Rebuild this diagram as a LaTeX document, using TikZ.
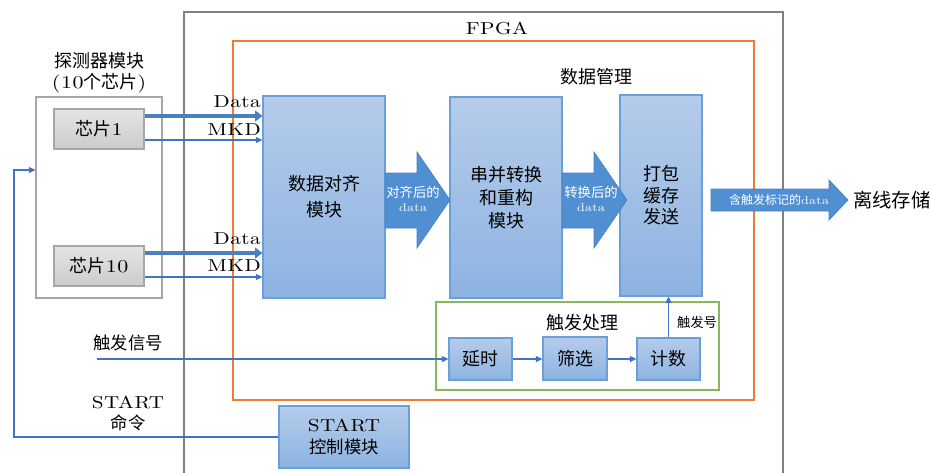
\documentclass[tikz,border=0pt]{standalone}
\usepackage{fontspec}
\setmainfont{lmroman10-regular}[Extension=.otf,FakeStretch=1.22,LetterSpace=3]
\newfontfamily\cjk{Noto Sans CJK SC}
\usetikzlibrary{arrows.meta}
\definecolor{modt}{HTML}{B5CCEA}
\definecolor{modb}{HTML}{8DB3E2}
\definecolor{modline}{HTML}{6A9FD9}
\definecolor{arrfill}{HTML}{5090D2}
\definecolor{arrline}{HTML}{4A80C0}
\definecolor{conn}{HTML}{4472C4}
\definecolor{fpgagray}{HTML}{808080}
\definecolor{boxgray}{HTML}{A6A6A6}
\definecolor{orng}{HTML}{ED7D31}
\definecolor{grn}{HTML}{86B85C}
\definecolor{chipt}{HTML}{E4E4E4}
\definecolor{chipb}{HTML}{CCCCCC}
\newcommand\fsz[2]{\fontsize{#1}{#2}\selectfont}
\begin{document}
\begin{tikzpicture}[x=0.75pt,y=-0.75pt,
  mod/.style={draw=modline, line width=0.8pt, top color=modt, bottom color=modb, align=center, inner sep=0pt, text=black},
  chip/.style={draw=boxgray, line width=0.8pt, top color=chipt, bottom color=chipb, inner sep=0pt, minimum width=67.5pt, minimum height=30pt, font=\fsz{13.5}{16}},
  lbl/.style={inner sep=0pt, align=center, text=black},
  conn/.style={draw=conn, line width=1pt, -{Triangle[length=5pt,width=4.5pt]}},
  thickconn/.style={draw=arrline, line width=3.6pt, -{Triangle[length=5.5pt,width=8pt]}},
  barrow/.style={fill=arrfill, draw=arrline, line width=0.5pt},
  arrlbl/.style={inner sep=0pt, align=center, text=white}
]
\useasboundingbox (0,0) rectangle (930,472);

% frames
\draw[fpgagray, line width=1pt] (184,480) -- (184,12) -- (783,12) -- (783,480);
\node[lbl, font=\fsz{13}{15}] (fpgal) at (497,28) {FPGA};
\draw[orng, line width=1pt] (233,41) rectangle (754,400);
\node[lbl, font=\fsz{13.5}{16}\cjk] (dml) at (596,77) {数据管理};
\draw[grn, line width=1.2pt] (436,302) rectangle (719,390);
\node[lbl, font=\fsz{13.5}{16}\cjk] (tpl) at (582,323) {触发处理};

% detector
\node[draw=boxgray, line width=0.8pt, minimum width=94.5pt, minimum height=150.75pt, inner sep=0pt] (det) at (99,197.5) {};
\node[lbl, font=\fsz{13.5}{15.5}] (detl) at (99,73) {{\cjk 探测器模块}\\(10{\cjk 个芯片})};
\node[chip] (chip1) at (99,129) {{\cjk 芯片}1};
\node[chip] (chip10) at (99,266) {{\cjk 芯片}10};

% modules
\node[mod, minimum width=91.5pt, minimum height=151.5pt, font=\fsz{13.5}{19.5}\cjk] (align) at (324,197) {数据对齐\\模块};
\node[mod, minimum width=84pt, minimum height=150.75pt, font=\fsz{13.5}{17}\cjk] (serial) at (506,197.5) {串并转换\\和重构\\模块};
\node[mod, minimum width=61.5pt, minimum height=150.75pt, font=\fsz{13.5}{16.2}\cjk] (pack) at (661,195.5) {打包\\缓存\\发送};

% trigger processing
\node[mod, minimum width=47.25pt, minimum height=31.5pt, font=\fsz{13.5}{16}\cjk] (delay) at (480.5,359) {延时};
\node[mod, minimum width=48pt, minimum height=32.25pt, font=\fsz{13.5}{16}\cjk] (filt) at (575,358.5) {筛选};
\node[mod, minimum width=47.25pt, minimum height=31.5pt, font=\fsz{13.5}{16}\cjk] (count) at (668.5,359) {计数};
\node[lbl, font=\fsz{10}{12}\cjk] (trno) at (697,322) {触发号};

% START control
\node[mod, minimum width=97.5pt, minimum height=46.5pt, font=\fsz{13}{17}] (start) at (344,437) {START\\{\cjk 控制模块}};

% left labels
\node[lbl, font=\fsz{13}{16}\cjk] (trsig) at (128,343) {触发信号};
\node[lbl, font=\fsz{13}{16}] (startcmd) at (128,413.5) {START\\{\cjk 命令}};

% block arrows
\draw[barrow] (385,173) -- (417,173) -- (417,152) -- (450,200) -- (417,248) -- (417,228) -- (385,228) -- cycle;
\node[arrlbl, font=\fsz{10}{10.5}] (a1l) at (413,199) {{\cjk 对齐后的}\\{\fsz{8.5}{9}data}};
\draw[barrow] (562,173) -- (594,173) -- (594,152) -- (627,200) -- (594,248) -- (594,228) -- (562,228) -- cycle;
\node[arrlbl, font=\fsz{10}{10.5}] (a2l) at (591,199) {{\cjk 转换后的}\\{\fsz{8.5}{9}data}};
\draw[barrow] (711,189) -- (829,189) -- (829,180) -- (848,200) -- (829,220) -- (829,211) -- (711,211) -- cycle;
\node[arrlbl, font=\fsz{9}{10}] (a3l) at (779,200) {{\cjk 含触发标记的}{\fsz{8.5}{9}data}};
\node[lbl, anchor=west, font=\fsz{14.5}{17}\cjk] (store) at (853,200) {离线存储};

% data / MKD connectors
\draw[thickconn] (chip1.east |- 0,116) -- (align.west |- 0,116);
\draw[conn] (chip1.east |- 0,140) -- (align.west |- 0,140);
\draw[thickconn] (chip10.east |- 0,253) -- (align.west |- 0,253);
\draw[conn] (chip10.east |- 0,277) -- (align.west |- 0,277);
\node[lbl, anchor=east, font=\fsz{13}{15}] (d1) at (261,102) {Data};
\node[lbl, anchor=east, font=\fsz{13}{15}] (m1) at (261,130) {MKD};
\node[lbl, anchor=east, font=\fsz{13}{15}] (d10) at (261,239) {Data};
\node[lbl, anchor=east, font=\fsz{13}{15}] (m10) at (261,266) {MKD};

% trigger chain
\coordinate (trin) at (97,359);
\draw[conn] (trin) -- (delay.west);
\draw[conn] (delay.east) -- (filt.west |- delay.east);
\draw[conn] (filt.east |- count.west) -- (count.west);
\draw[conn] (count.north) -- (pack.south -| count.north);

% START feedback
\coordinate (fb) at (14,170);
\draw[conn] (start.west) -| (fb) -- (det.west |- fb);
\end{tikzpicture}
\end{document}
